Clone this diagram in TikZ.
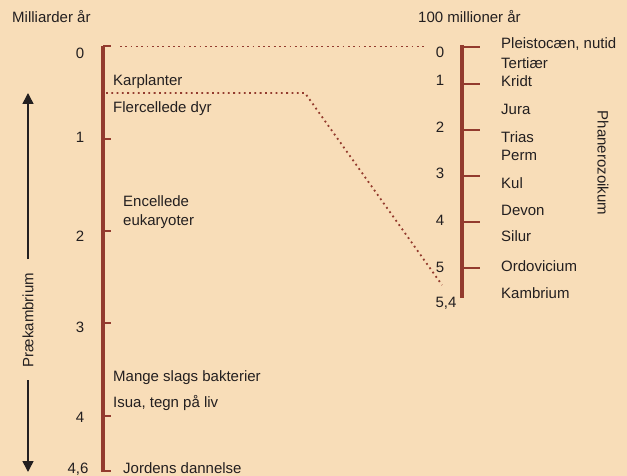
\documentclass[tikz,border=0pt]{standalone}
\usepackage{fontspec}
\setmainfont{Liberation Sans}
\usetikzlibrary{arrows.meta}
\definecolor{bg}{HTML}{F8DDB8}
\definecolor{axisred}{HTML}{933B2E}
\definecolor{ink}{HTML}{231F20}
\begin{document}
\begin{tikzpicture}[x=1pt,y=-1pt,
  every node/.style={font=\fontsize{15}{18}\selectfont, text=ink, inner sep=0pt},
  lbl/.style={anchor=west, text height=11pt, text depth=0pt},
  num/.style={anchor=center, text height=11pt, text depth=0pt},
  axisline/.style={draw=axisred, line width=4pt},
  tickline/.style={draw=axisred, line width=2pt},
  dotline/.style={draw=axisred, line width=1.8pt, dash pattern=on 1.8pt off 3.5pt},
  bigarrow/.style={draw=ink, line width=1.5pt, -{Triangle[width=11pt,length=11pt]}}]
\fill[bg] (0,0) rectangle (627,476);
\useasboundingbox (0,0) rectangle (627,476);

% headings
\node[lbl] (hl) at (12,17) {Milliarder år};
\node[lbl] (hr) at (418,17) {100 millioner år};

% left axis
\coordinate (La) at (103,46);
\coordinate (Lb) at (103,472);
\draw[axisline] (La) -- (Lb);
\foreach \n/\y in {0/46,1/139,2/231,3/323,4/416,46/470.5}{
  \coordinate (Lt\n) at (103,\y);
  \coordinate (Lu\n) at (111,\y);
  \draw[tickline] (Lt\n) -- (Lu\n);
}
\node[num] (n0) at (80,53) {0};
\node[num] (n1) at (80,137) {1};
\node[num] (n2) at (80,236) {2};
\node[num] (n3) at (80,327) {3};
\node[num] (n4) at (80,417) {4};
\node[num] (n46) at (78,468) {4,6};

\node[lbl] (karp) at (113,80) {Karplanter};
\node[lbl] (flerc) at (113,107) {Flercellede dyr};
\node[lbl] (enc) at (123,201) {Encellede};
\node[lbl] (euk) at (123,220) {eukaryoter};
\node[lbl] (mange) at (113,376) {Mange slags bakterier};
\node[lbl] (isua) at (113,402) {Isua, tegn på liv};
\node[lbl] (jord) at (123,468) {Jordens dannelse};

% right axis
\coordinate (Ra) at (462,45);
\coordinate (Rb) at (462,298);
\draw[axisline] (Ra) -- (Rb);
\foreach \n/\y in {0/47,1/84,2/130,3/176,4/222,5/268}{
  \coordinate (Rt\n) at (462,\y);
  \coordinate (Ru\n) at (480,\y);
  \draw[tickline] (Rt\n) -- (Ru\n);
}
\node[num] (m0) at (440,52) {0};
\node[num] (m1) at (440,80) {1};
\node[num] (m2) at (440,127) {2};
\node[num] (m3) at (440,173) {3};
\node[num] (m4) at (440,220) {4};
\node[num] (m5) at (440,267) {5};
\node[num] (m54) at (446,302) {5,4};

\node[lbl] (pleist) at (501,43) {Pleistocæn, nutid};
\node[lbl] (tert) at (501,63) {Tertiær};
\node[lbl] (kridt) at (501,81) {Kridt};
\node[lbl] (jura) at (501,109) {Jura};
\node[lbl] (trias) at (501,137) {Trias};
\node[lbl] (perm) at (501,155) {Perm};
\node[lbl] (kul) at (501,183) {Kul};
\node[lbl] (devon) at (501,210) {Devon};
\node[lbl] (silur) at (501,236) {Silur};
\node[lbl] (ordo) at (501,266) {Ordovicium};
\node[lbl] (kamb) at (501,293) {Kambrium};

\node[rotate=-90, anchor=center] (phan) at (603,163) {Phanerozoikum};

% dotted connectors
\coordinate (d1a) at (120,46.5);
\coordinate (d1b) at (425,46.5);
\draw[dotline] (d1a) -- (d1b);
\coordinate (d2a) at (106,93);
\coordinate (d2b) at (305,93);
\coordinate (d2c) at (442,285);
\draw[dotline] (d2a) -- (d2b) -- (d2c);

% Prækambrium arrow
\node[rotate=90, anchor=center] (prae) at (28,320) {Prækambrium};
\coordinate (aup) at (28,93);
\coordinate (adown) at (28,472);
\draw[bigarrow] (28,259) -- (aup);
\draw[bigarrow] (28,380) -- (adown);
\end{tikzpicture}
\end{document}
